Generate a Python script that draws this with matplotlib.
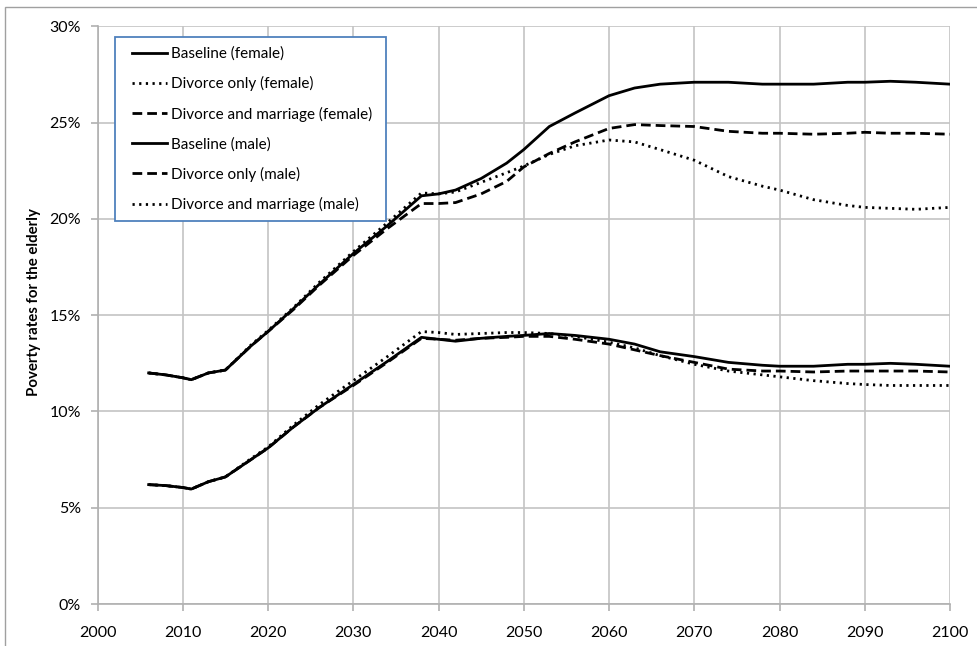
import matplotlib
matplotlib.use("Agg")
import matplotlib.pyplot as plt
from matplotlib.patches import Rectangle
from matplotlib.ticker import FuncFormatter, MultipleLocator

plt.rcParams['font.family'] = ['Lato', 'DejaVu Sans']

years = [2006, 2008, 2010, 2011, 2013, 2015, 2018, 2020, 2023, 2026, 2030, 2034,
         2038, 2040, 2042, 2045, 2048, 2050, 2053, 2056, 2060, 2063, 2066, 2070,
         2074, 2078, 2080, 2084, 2088, 2090, 2093, 2096, 2100]

baseline_female = [12.0, 11.9, 11.75, 11.65, 12.0, 12.15, 13.4, 14.15, 15.35, 16.6, 18.2, 19.65,
                   21.2, 21.3, 21.5, 22.1, 22.9, 23.6, 24.8, 25.5, 26.4, 26.8, 27.0, 27.1,
                   27.1, 27.0, 27.0, 27.0, 27.1, 27.1, 27.15, 27.1, 27.0]
divorce_only_female = [12.0, 11.9, 11.75, 11.65, 12.0, 12.15, 13.45, 14.2, 15.4, 16.7, 18.3, 19.8,
                       21.35, 21.3, 21.4, 21.9, 22.4, 22.75, 23.35, 23.8, 24.1, 24.0, 23.6, 23.05,
                       22.2, 21.7, 21.5, 21.0, 20.7, 20.6, 20.55, 20.5, 20.6]
divorce_marriage_female = [12.0, 11.9, 11.75, 11.65, 12.0, 12.15, 13.4, 14.15, 15.3, 16.55, 18.1, 19.5,
                           20.8, 20.8, 20.85, 21.3, 21.95, 22.7, 23.4, 24.0, 24.7, 24.9, 24.85, 24.8,
                           24.55, 24.45, 24.45, 24.4, 24.45, 24.5, 24.45, 24.45, 24.4]

baseline_male = [6.2, 6.15, 6.05, 5.97, 6.35, 6.6, 7.5, 8.1, 9.2, 10.2, 11.4, 12.6,
                 13.85, 13.75, 13.65, 13.8, 13.9, 13.95, 14.05, 13.95, 13.75, 13.5, 13.1, 12.85,
                 12.55, 12.4, 12.35, 12.35, 12.45, 12.45, 12.5, 12.45, 12.35]
divorce_only_male = [6.2, 6.15, 6.05, 5.97, 6.35, 6.6, 7.5, 8.1, 9.2, 10.2, 11.35, 12.55,
                     13.8, 13.75, 13.7, 13.8, 13.85, 13.9, 13.9, 13.75, 13.5, 13.2, 12.9, 12.55,
                     12.2, 12.1, 12.1, 12.05, 12.1, 12.1, 12.1, 12.1, 12.05]
divorce_marriage_male = [6.2, 6.15, 6.05, 5.97, 6.35, 6.6, 7.55, 8.15, 9.3, 10.35, 11.6, 12.85,
                         14.15, 14.1, 14.0, 14.05, 14.1, 14.1, 14.05, 13.9, 13.6, 13.3, 12.9, 12.45,
                         12.1, 11.9, 11.8, 11.6, 11.45, 11.4, 11.35, 11.35, 11.35]

labels = ["Baseline (female)", "Divorce only (female)", "Divorce and marriage (female)",
          "Baseline (male)", "Divorce only (male)", "Divorce and marriage (male)"]

W, H = 977, 646
fig = plt.figure(figsize=(W/100, H/100), dpi=100)
ax = fig.add_axes([97.5/W, 1-604/H, (950-97.5)/W, (604-26.4)/H])

dotted = (0, (0.8, 1.6))
dashed = (0, (3.5, 1.8))
lw = 2.0
series = [
    (baseline_female, '-'), (divorce_only_female, dotted), (divorce_marriage_female, dashed),
    (baseline_male, '-'), (divorce_only_male, dashed), (divorce_marriage_male, dotted),
]
handles = []
for (vals, ls), lab in zip(series, labels):
    h, = ax.plot(years, [v/100 for v in vals], color='black', lw=lw, linestyle=ls, label=lab)
    handles.append(h)

ax.set_xlim(2000, 2100)
ax.set_ylim(0, 0.30)
ax.xaxis.set_major_locator(MultipleLocator(10))
ax.yaxis.set_major_locator(MultipleLocator(0.05))
ax.yaxis.set_major_formatter(FuncFormatter(lambda v, p: f"{v*100:.0f}%"))
ax.grid(True, color='#c4c4c4', lw=1.2)
ax.set_axisbelow(True)
for s in ['top', 'right']:
    ax.spines[s].set_visible(False)
for s in ['left', 'bottom']:
    ax.spines[s].set_color('#b0b0b0')
    ax.spines[s].set_linewidth(1.2)
ax.tick_params(axis='both', colors='#b0b0b0', labelcolor='black', labelsize=11.5, length=5, width=1.2)
ax.tick_params(axis='x', pad=11)
ax.tick_params(axis='y', pad=7)
ax.set_ylabel("Poverty rates for the elderly", fontsize=10.8, fontweight='bold')
ax.yaxis.set_label_coords(-(97.5-41)/852.5, (604-302)/577.6)

# legend box
box = Rectangle((115/W, 1-221/H), 271/W, 184.3/H, transform=fig.transFigure,
                facecolor='white', edgecolor='#4f81bd', lw=1.3, zorder=4, clip_on=False)
ax.add_artist(box)
fs = 11
leg = ax.legend(handles=handles, loc='upper left',
                bbox_to_anchor=(131.7/W, 1-(53.3-6.5)/H), bbox_transform=fig.transFigure,
                frameon=False, fontsize=fs, handlelength=2.3, handletextpad=0.25,
                labelspacing=1.0, borderpad=0, borderaxespad=0)
leg.set_zorder(5)

fig.patches.append(Rectangle((5/W, -0.1), 1.2, 1.1 - 7/H, transform=fig.transFigure,
                             fill=False, edgecolor='#a0a0a0', lw=1.0))

fig.savefig("out.png", dpi=100)
